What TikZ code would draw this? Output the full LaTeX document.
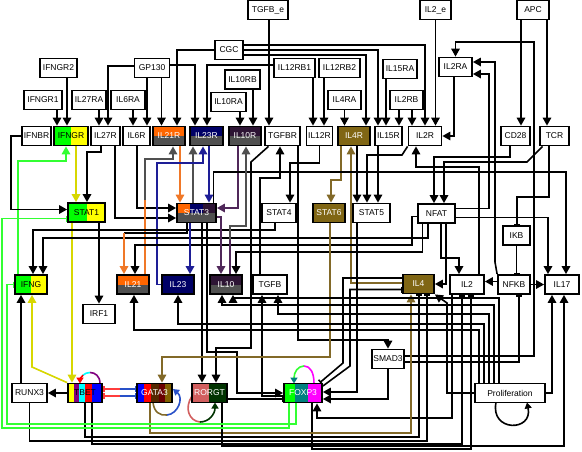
\documentclass[tikz,border=0pt]{standalone}
\usepackage{fontspec}
\setmainfont{Liberation Sans}
\usetikzlibrary{arrows.meta,calc,backgrounds}
\definecolor{cgreen}{RGB}{0,255,0}
\definecolor{cyel}{RGB}{255,255,0}
\definecolor{corange}{RGB}{255,102,0}
\definecolor{cgray}{RGB}{80,80,80}
\definecolor{cnavy}{RGB}{0,0,102}
\definecolor{cpurp}{RGB}{45,20,52}
\definecolor{colive}{RGB}{128,102,20}
\definecolor{ctbpurple}{RGB}{128,0,128}
\definecolor{cbrown}{RGB}{85,40,0}
\definecolor{cmaroon}{RGB}{105,0,0}
\definecolor{cgolive}{RGB}{128,96,0}
\definecolor{csalmon}{RGB}{210,95,95}
\definecolor{cdgreen}{RGB}{0,51,0}
\definecolor{cteal}{RGB}{0,128,128}
\definecolor{cmag}{RGB}{255,0,255}
\definecolor{ccyan}{RGB}{0,255,255}
\definecolor{lyellow}{RGB}{215,215,0}
\definecolor{lgreen}{RGB}{50,255,50}
\definecolor{lorange}{RGB}{240,120,40}
\definecolor{lnavy}{RGB}{30,30,150}
\definecolor{lpurp}{RGB}{80,40,90}
\definecolor{lolive}{RGB}{130,105,40}
\definecolor{lred}{RGB}{255,60,60}
\definecolor{lblue}{RGB}{40,80,200}
\begin{document}
\begin{tikzpicture}[x=1pt,y=-1pt,
 nd/.style={draw=black, line width=1.8pt, minimum height=19pt, inner sep=0pt, fill=white, text=black, font=\fontsize{8.5}{9}\selectfont},
 LR/.style 2 args={path picture={\fill[#1] (path picture bounding box.south west) rectangle (path picture bounding box.north); \fill[#2] (path picture bounding box.south) rectangle (path picture bounding box.north east);}},
 TB/.style 2 args={path picture={\fill[#1] (path picture bounding box.north west) rectangle (path picture bounding box.east); \fill[#2] (path picture bounding box.west) rectangle (path picture bounding box.south east);}},
 ST/.style={path picture={\foreach \scol/\sfrom/\sto in {#1}{\fill[\scol] ($(path picture bounding box.south west)!\sfrom!(path picture bounding box.south east)$) rectangle ($(path picture bounding box.north west)!\sto!(path picture bounding box.north east)$);}}},
 S3/.style={path picture={\fill[cgray] (path picture bounding box.south west) rectangle (path picture bounding box.east);
  \fill[corange] (path picture bounding box.west) rectangle ($(path picture bounding box.north west)!.33!(path picture bounding box.north east)$);
  \fill[cnavy] ($(path picture bounding box.west)!.33!(path picture bounding box.east)$) rectangle ($(path picture bounding box.north west)!.66!(path picture bounding box.north east)$);
  \fill[cpurp] ($(path picture bounding box.west)!.66!(path picture bounding box.east)$) rectangle (path picture bounding box.north east);}},
 ln/.style={line width=1.6pt, draw=black},
 ar/.style={ln, -{Triangle[length=8pt,width=8.5pt]}},
 arsm/.style={ln, -{Triangle[length=6pt,width=7pt]}},
 ib/.style={ln, -{Bar[width=6pt]}}
]
\useasboundingbox (0,0) rectangle (582,451);
% ---------------- nodes
\node[nd, minimum width=40pt] (TGFBe) at (268,10) {TGFB\_e};
\node[nd, minimum width=31pt] (IL2e) at (435.5,10) {IL2\_e};
\node[nd, minimum width=32pt] (APC) at (533,10) {APC};
\node[nd, minimum width=28pt] (CGC) at (229,50) {CGC};
\node[nd, minimum width=37pt] (IFNGR2) at (58.5,68) {IFNGR2};
\node[nd, minimum width=35pt] (GP130) at (152,68) {GP130};
\node[nd, minimum width=41pt] (IL12RB1) at (294.5,68) {IL12RB1};
\node[nd, minimum width=41pt] (IL12RB2) at (339.5,68) {IL12RB2};
\node[nd, minimum width=34pt] (IL15RA) at (400,69) {IL15RA};
\node[nd, minimum width=33pt] (IL2RA) at (455.5,67) {IL2RA};
\node[nd, minimum width=35pt] (IL10RB) at (242.5,79.5) {IL10RB};
\node[nd, minimum width=38pt] (IFNGR1) at (43,100) {IFNGR1};
\node[nd, minimum width=34pt] (IL27RA) at (89,100) {IL27RA};
\node[nd, minimum width=34pt] (IL6RA) at (128,100) {IL6RA};
\node[nd, minimum width=35pt] (IL10RA) at (228.5,102) {IL10RA};
\node[nd, minimum width=33pt] (IL4RA) at (344.5,100) {IL4RA};
\node[nd, minimum width=33pt] (IL2RB) at (406.5,100) {IL2RB};
\node[nd, minimum width=29pt] (IFNBR) at (36.5,136) {IFNBR};
\node[nd, minimum width=34pt, LR={cgreen}{cyel}] (IFNGR) at (71,136) {IFNGR};
\node[nd, minimum width=29pt] (IL27R) at (105.5,136) {IL27R};
\node[nd, minimum width=27pt] (IL6R) at (136.5,136) {IL6R};
\node[nd, minimum width=32pt, TB={corange}{cgray}, text=white] (IL21R) at (169,136) {IL21R};
\node[nd, minimum width=33pt, TB={cnavy}{cgray}, text=white] (IL23R) at (206.5,136) {IL23R};
\node[nd, minimum width=32pt, TB={cpurp}{cgray}, text=white] (IL10R) at (245,136) {IL10R};
\node[nd, minimum width=35pt] (TGFBR) at (282.5,136) {TGFBR};
\node[nd, minimum width=26pt] (IL12R) at (319.5,136) {IL12R};
\node[nd, minimum width=32pt, fill=colive, text=white] (IL4R) at (354,136) {IL4R};
\node[nd, minimum width=27pt] (IL15R) at (388.5,136) {IL15R};
\node[nd, minimum width=33pt] (IL2R) at (425,136) {IL2R};
\node[nd, minimum width=29pt] (CD28) at (515.5,136) {CD28};
\node[nd, minimum width=29pt] (TCR) at (554.5,136) {TCR};
\node[nd, minimum width=37pt, LR={cgreen}{cyel}] (STAT1) at (86.5,212.5) {STAT1};
\node[nd, minimum width=39pt, S3, text=white] (STAT3) at (196.5,213) {STAT3};
\node[nd, minimum width=34pt] (STAT4) at (279,213) {STAT4};
\node[nd, minimum width=32pt, fill=colive, text=white] (STAT6) at (329,213) {STAT6};
\node[nd, minimum width=37pt] (STAT5) at (371.5,213) {STAT5};
\node[nd, minimum width=37pt] (NFAT) at (436.5,213.5) {NFAT};
\node[nd, minimum width=27pt] (IKB) at (516.5,235.5) {IKB};
\node[nd, minimum width=32pt, LR={cgreen}{cyel}] (IFNG) at (31,284.5) {IFNG};
\node[nd, minimum width=32pt, TB={corange}{cgray}, text=white] (IL21) at (133,284.5) {IL21};
\node[nd, minimum width=32pt, fill=cnavy, text=white] (IL23) at (178,284.5) {IL23};
\node[nd, minimum width=32pt, TB={cpurp}{cgray}, text=white] (IL10) at (226,284.5) {IL10};
\node[nd, minimum width=34pt] (TGFB) at (270,284.5) {TGFB};
\node[nd, minimum width=31pt, fill=colive, text=white] (IL4) at (418.5,284) {IL4};
\node[nd, minimum width=34pt] (IL2) at (467,284.5) {IL2};
\node[nd, minimum width=32pt] (NFKB) at (514,284.5) {NFKB};
\node[nd, minimum width=34pt] (IL17) at (562,284.5) {IL17};
\node[nd, minimum width=32pt] (IRF1) at (99,314) {IRF1};
\node[nd, minimum width=32pt] (SMAD3) at (388,359) {SMAD3};
\node[nd, minimum width=35pt] (RUNX3) at (29.5,393) {RUNX3};
\node[nd, minimum width=34pt, ST={cyel/0/.19,ctbpurple/.19/.33,ccyan/.33/.5,red/.5/.72,blue/.72/1}] (TBET) at (85,393) {TBET};
\node[nd, minimum width=35pt, ST={blue/0/.21,red/.21/.41,cbrown/.41/.62,cmaroon/.62/.81,cgolive/.81/1}, text=white] (GATA3) at (154.5,393) {GATA3};
\node[nd, minimum width=35pt, ST={csalmon/0/.48,cdgreen/.48/1}, text=white] (RORGT) at (209.5,393) {RORGT};
\node[nd, minimum width=38pt, ST={cgreen/0/.3,cteal/.3/.63,cmag/.63/1}, text=white] (FOXP3) at (303,393) {FOXP3};
\node[nd, minimum width=70pt] (Proliferation) at (510,393) {Proliferation};
% ---------------- connectors
\begin{pgfonlayer}{background}
\fill[white] (0,0) rectangle (582,451);
% inputs to receptors
\draw[ar] ([xshift=8.5pt]IFNGR2.south) -- ([xshift=-4pt]IFNGR.north);
\draw[ar] ([xshift=14pt]IFNGR1.south) -- ([xshift=-14pt]IFNGR.north);
\draw[ar] ([xshift=10pt]IL27RA.south) -- ([xshift=-6.5pt]IL27R.north);
\draw[ar] ([yshift=2pt]GP130.west) -| ([xshift=2.5pt]IL27R.north);
\draw[ar] ([xshift=5pt]IL6RA.south) -- ([xshift=-3.5pt]IL6R.north);
\draw[ar] ([xshift=-5pt]GP130.south) -- ([xshift=10.5pt]IL6R.north);
\draw[ar] ([xshift=9.5pt]GP130.south) -- ([xshift=-7.5pt]IL21R.north);
\draw[ar] (CGC.west) -| ([xshift=8pt]IL21R.north);
\draw[ar] ([yshift=3pt]GP130.east) -| ([xshift=-11.5pt]IL23R.north);
\draw[ar] ([yshift=3pt]IL12RB1.west) -| ([xshift=0.5pt]IL23R.north);
\draw[ar] ([xshift=11.5pt]IL10RA.south) -- ([xshift=-5pt]IL10R.north);
\draw[ar] ([xshift=10.5pt]IL10RB.south) -- ([xshift=8pt]IL10R.north);
\draw[ar] ([xshift=1pt]TGFBe.south) -- ([xshift=-13.5pt]TGFBR.north);
\draw[ar] ([xshift=18.5pt]IL12RB1.south) -- ([xshift=-6.5pt]IL12R.north);
\draw[ar] ([xshift=-15.5pt]IL12RB2.south) -- ([xshift=4.5pt]IL12R.north);
\draw[ar] (IL4RA.south) -- ([xshift=-9.5pt]IL4R.north);
\draw[ar] ([yshift=-5pt]CGC.east) -| ([xshift=12pt]IL4R.north);
\draw[ar] (CGC.east) -| ([xshift=-10.5pt]IL15R.north);
\draw[ar] ([yshift=5pt]CGC.east) -| (IL2R.north);
\draw[ar] ([xshift=-14pt]IL15RA.south) -- ([xshift=-2.5pt]IL15R.north);
\draw[ar] ([xshift=-7.5pt]IL2RB.south) -- ([xshift=10.5pt]IL15R.north);
\draw[ar] ([xshift=5.5pt]IL2RB.south) -- ([xshift=-13pt]IL2R.north);
\draw[ar] (IL2e.south) -- ([xshift=10.5pt]IL2R.north);
\draw[ar] ([xshift=-1.5pt]IL2RA.south) |- (IL2R.east);
\draw[ar] ([xshift=-12pt]APC.south) -- ([xshift=5.5pt]CD28.north);
\draw[ar] ([xshift=14pt]APC.south) -- ([xshift=-7.5pt]TCR.north);
\draw[ar] ([yshift=3pt]SMAD3.east) -| (534,42) -| (IL2RA.north);
% receptors to STATs
\draw[ar, draw=lyellow] ([xshift=5pt]IFNGR.south) -- ([xshift=-10.5pt]STAT1.north);
\draw[ar, draw=lgreen] ([xshift=-13pt]IFNG.north) |- (66,161) -- ([xshift=-5pt]IFNGR.south);
\draw[ar] ([xshift=-4.5pt]IL27R.south) |- (87,152) -- ([xshift=0.5pt]STAT1.north);
\draw[ar] (IFNBR.west) -- ++(-10,0) |- ([yshift=3pt]STAT1.west);
\draw[ar] ([xshift=9.5pt]IL27R.south) |- ([yshift=-5pt]STAT3.west);
\draw[ar] ([xshift=0.5pt]IL6R.south) |- ([yshift=5pt]STAT3.west);
\draw[ar, draw=lorange] ([xshift=11pt]IL21R.south) -- ([xshift=-16.5pt]STAT3.north);
\draw[ar, draw=lnavy] ([xshift=2.5pt]IL23R.south) -- ([xshift=12.5pt]STAT3.north);
\draw[ar, draw=lpurp] ([xshift=-7pt]IL10R.south) |- ([yshift=5pt]STAT3.east);
\draw[ar, draw=cgray] ([xshift=-3.5pt]STAT3.north) -- ([xshift=-13.5pt]IL23R.south);
\draw[ln, draw=lorange] ([xshift=12pt]IL21.north) -- (145,200);
\draw[ar, draw=cgray] (145,200) |- (173,159) -- ([xshift=4pt]IL21R.south);
\draw[ar, draw=lnavy] (IL23.west) -- ++(-4,0) |- (203,163) -- ([xshift=-3.5pt]IL23R.south);
\draw[ar] (IL12R.south) |- (290,163) -- ([xshift=11pt]STAT4.north);
\draw[ar] ([xshift=-10pt]TGFB.north) |- (280,178) -- ([xshift=-2.5pt]TGFBR.south);
\draw[ar] ([xshift=-14pt]TGFBR.south) -- (251,162) |- (216,348) -- ([xshift=6.5pt]RORGT.north);
\draw[ar] ([xshift=15.5pt]TGFBR.south) |- (388,340) -- (SMAD3.north);
\draw[ar, draw=lolive] ([xshift=-13pt]IL4R.south) |- (331,180) -- ([xshift=2pt]STAT6.north);
\draw[ar, draw=lolive] ([yshift=1pt]IL4.west) -| ([xshift=-3pt]IL4R.south);
\draw[ar] ([xshift=3pt]IL4R.south) -- ([xshift=-14.5pt]STAT5.north);
\draw[ar] ([xshift=-10.5pt]IL15R.south) -- ([xshift=6.5pt]STAT5.north);
\draw[ar] (IL2R.south west) -- (402,155) -| ([xshift=-4.5pt]STAT5.north);
\draw[ar] ([xshift=12pt]IL2.north) |- (416,167) -- ([xshift=-9pt]IL2R.south);
\draw[ar] ([xshift=-5.5pt]CD28.south) |- (434,157) -- ([xshift=-2.5pt]NFAT.north);
\draw[ar] ([xshift=-12pt]TCR.south) -- (527,162) -| ([xshift=7.5pt]NFAT.north);
\draw[ib] ([xshift=-5.5pt]TCR.south) |- (517,197) -- ([xshift=0.5pt]IKB.north);
\draw[ib] (IKB.south) -- ([xshift=2.5pt]NFKB.north);
\draw[ar] ([yshift=3pt]NFKB.west) -- ([yshift=3pt]IL2.east);
\draw[ar] (NFKB.east) -- (IL17.west);
\draw[ar] (NFKB.north west) -- (495,262) |- ([yshift=5pt]IL2RA.east);
\draw[ar] ([yshift=5pt]NFAT.east) -| (489,74) -- ([yshift=-7pt]IL2RA.east);
\draw[ar] ([yshift=-4pt]NFAT.east) -| ([xshift=-14pt]IL17.north);
\draw[ar] ([xshift=17pt]STAT3.north) |- (566,172) -- ([xshift=4pt]IL17.north);
% STATs to targets
\draw[ar, draw=lyellow] ([xshift=-14.5pt]STAT1.south) -- ([xshift=-13pt]TBET.north);
\draw[ar] ([xshift=12.5pt]STAT1.south) -- (IRF1.north);
\draw[ar] ([xshift=-4pt]STAT4.south) |- (33,230) -- ([xshift=2pt]IFNG.north);
\draw[ar] ([xshift=-8.5pt]NFAT.south) |- (43,238) -- ([xshift=12pt]IFNG.north);
\draw[ar] ([yshift=-3pt]NFAT.west) -| (412,245) -| ([xshift=2pt]IL21.north);
\draw[ar] ([xshift=-14pt]NFAT.south) |- (236,252) -- ([xshift=10pt]IL10.north);
\draw[ar] ([xshift=4.5pt]NFAT.south) |- (459,258) -- ([xshift=-8pt]IL2.north);
\draw[ar] ([xshift=9.5pt]NFAT.south) |- (IL4.east);
\draw[ln] ([xshift=-9.5pt]STAT3.south) |- (124,233);
\draw[ar, draw=lorange] (124,233) -- ([xshift=-9pt]IL21.north);
\draw[ar, draw=lnavy] ([xshift=-6.5pt]STAT3.south) -- ([xshift=12pt]IL23.north);
\draw[ar, draw=lpurp] ([yshift=-4pt]STAT3.east) -| ([xshift=-5pt]IL10.north);
\draw[ln, draw=lpurp] ([xshift=4pt]IL10.north) -- (230,240);
\draw[ar, draw=cgray] (230,240) |- (246,226) -- ([xshift=1pt]IL10R.south);
\draw[ar] ([xshift=5.5pt]STAT3.south) -- ([xshift=-7.5pt]RORGT.north);
\draw[ar] ([xshift=10.5pt]STAT3.south) |- (237,352) |- (FOXP3.west);
\draw[ar] ([yshift=-3pt]FOXP3.west) -| ([xshift=-8pt]TGFB.south);
\draw[ib] ([yshift=-6pt]RORGT.east) -- ([yshift=-6pt]FOXP3.west);
\draw[ar, draw=lolive] ([xshift=1pt]STAT6.south) |- (162,357) -- ([xshift=7.5pt]GATA3.north);
\draw[ib] ([yshift=6pt]IL4.west) -| (343,363) -- ([xshift=-3pt]FOXP3.north east);
\draw[ib] ([yshift=7pt]FOXP3.east) -- (350,366) |- ([yshift=-5.5pt]IL4.west);
\draw[ar] ([xshift=-14.5pt]STAT5.south) |- ([yshift=1pt]FOXP3.east);
\draw[ar] (SMAD3.south) |- ([yshift=-6pt]FOXP3.east);
\draw[ib] ([yshift=-3pt]SMAD3.east) -| ([xshift=5pt]NFKB.south);
\draw[ar] ([xshift=-15pt]IL2.south) |- (317,418) -- ([xshift=14pt]FOXP3.south);
% bottom bus
\draw[ib] ([xshift=7pt]TBET.south) |- (462,444) -- ([xshift=-5pt]IL2.south);
\draw[ib] ([xshift=9pt]FOXP3.south) |- (471,449) -- ([xshift=4pt]IL2.south);
\draw[ib] (TBET.south) |- (419,437) -- ([xshift=0.5pt]IL4.south);
\draw[ib] (RUNX3.south) |- (427,441) -- ([xshift=8.5pt]IL4.south);
\draw[ar, draw=lolive] ([xshift=-4.5pt]GATA3.south) |- (411,433) -- ([xshift=-7.5pt]IL4.south);
\draw[ar] ([xshift=12.5pt]RORGT.south) |- (564,446) -- ([xshift=2pt]IL17.south);
\draw[ar] (Proliferation.east) -| ([xshift=-10pt]IL17.south);
\draw[ib, draw=lgreen] ([xshift=-14pt]FOXP3.south) |- (2,428) |- ([yshift=-6pt]STAT1.west);
\draw[ib, draw=lgreen] ([xshift=-7pt]FOXP3.south) |- (7,424) |- (IFNG.west);
% Th1 / Th2 block
\draw[ar] ([xshift=-8.5pt]RUNX3.north) -- ([xshift=-10pt]IFNG.south);
\draw[ar, draw=lyellow] (TBET.north west) -- (32,367) -- ([xshift=1pt]IFNG.south);
\draw[ar] (TBET.west) -- (RUNX3.east);
\coordinate (tg1) at ($([yshift=4pt]TBET.east)!.5!([yshift=4pt]GATA3.west)$);
\coordinate (tg2) at ($([yshift=-3pt]TBET.east)!.5!([yshift=-3pt]GATA3.west)$);
\draw[ln, draw=lred, {Bar[width=6pt]}-] ([yshift=4pt]TBET.east) -- (tg1);
\draw[ib, draw=lblue] (tg1) -- ([yshift=4pt]GATA3.west);
\draw[ln, draw=lred, {Bar[width=6pt]}-] ([yshift=-3pt]TBET.east) -- (tg2);
\draw[ib, draw=lblue] (tg2) -- ([yshift=-3pt]GATA3.west);
% Proliferation links
\draw[ar] ([xshift=-31pt]Proliferation.north) |- (134,330) -- ([xshift=1pt]IL21.south);
\draw[ar] ([xshift=-26pt]Proliferation.north) |- (178,324) -- (IL23.south);
\draw[ar] ([xshift=-21pt]Proliferation.north) |- (278,314) -- ([xshift=8pt]TGFB.south);
\draw[ar] ([xshift=-16pt]Proliferation.north) |- (222,305) -- ([xshift=-4pt]IL10.south);
\draw[ar] ([xshift=-11pt]Proliferation.north) |- (233,298) -- ([xshift=7pt]IL10.south);
\draw[ar] (Proliferation.west) -| (447,303) -- (IL4.south east);
% self loops
\draw[ln, draw=ctbpurple] (100,383.5) .. controls (100,376) and (95,372.5) .. (90,372.5);
\draw[ln, draw=ccyan] (90,372.5) .. controls (87.5,372.5) and (85,373.4) .. (83.1,375.1);
\draw[arsm, draw=red] (83.1,375.1) .. controls (81.25,376.9) and (80,379.5) .. (80,383.5);
\draw[ln, draw=lolive] (153,402.5) .. controls (154,412) and (160,416) .. (167,415);
\draw[arsm, draw=lblue] (167,415) .. controls (178,414) and (184,398) .. (173,389);
\draw[ln, draw=csalmon] (192,396) .. controls (184,408) and (189,421) .. (200,422);
\draw[arsm, draw=cdgreen] (200,422) .. controls (209,422) and (215,414) .. (215,402.5);
\draw[ln, draw=cmag] (314,383.5) .. controls (314,372) and (310,366) .. (304,366);
\draw[ln, draw=lgreen, -{Triangle[length=6pt,width=7pt,color=cteal]}] (304,366) .. controls (298,366) and (294,372) .. (294,383.5);
\draw[arsm] (496,402.5) .. controls (490,432) and (533,432) .. (527,402.5);
\end{pgfonlayer}
\end{tikzpicture}
\end{document}
